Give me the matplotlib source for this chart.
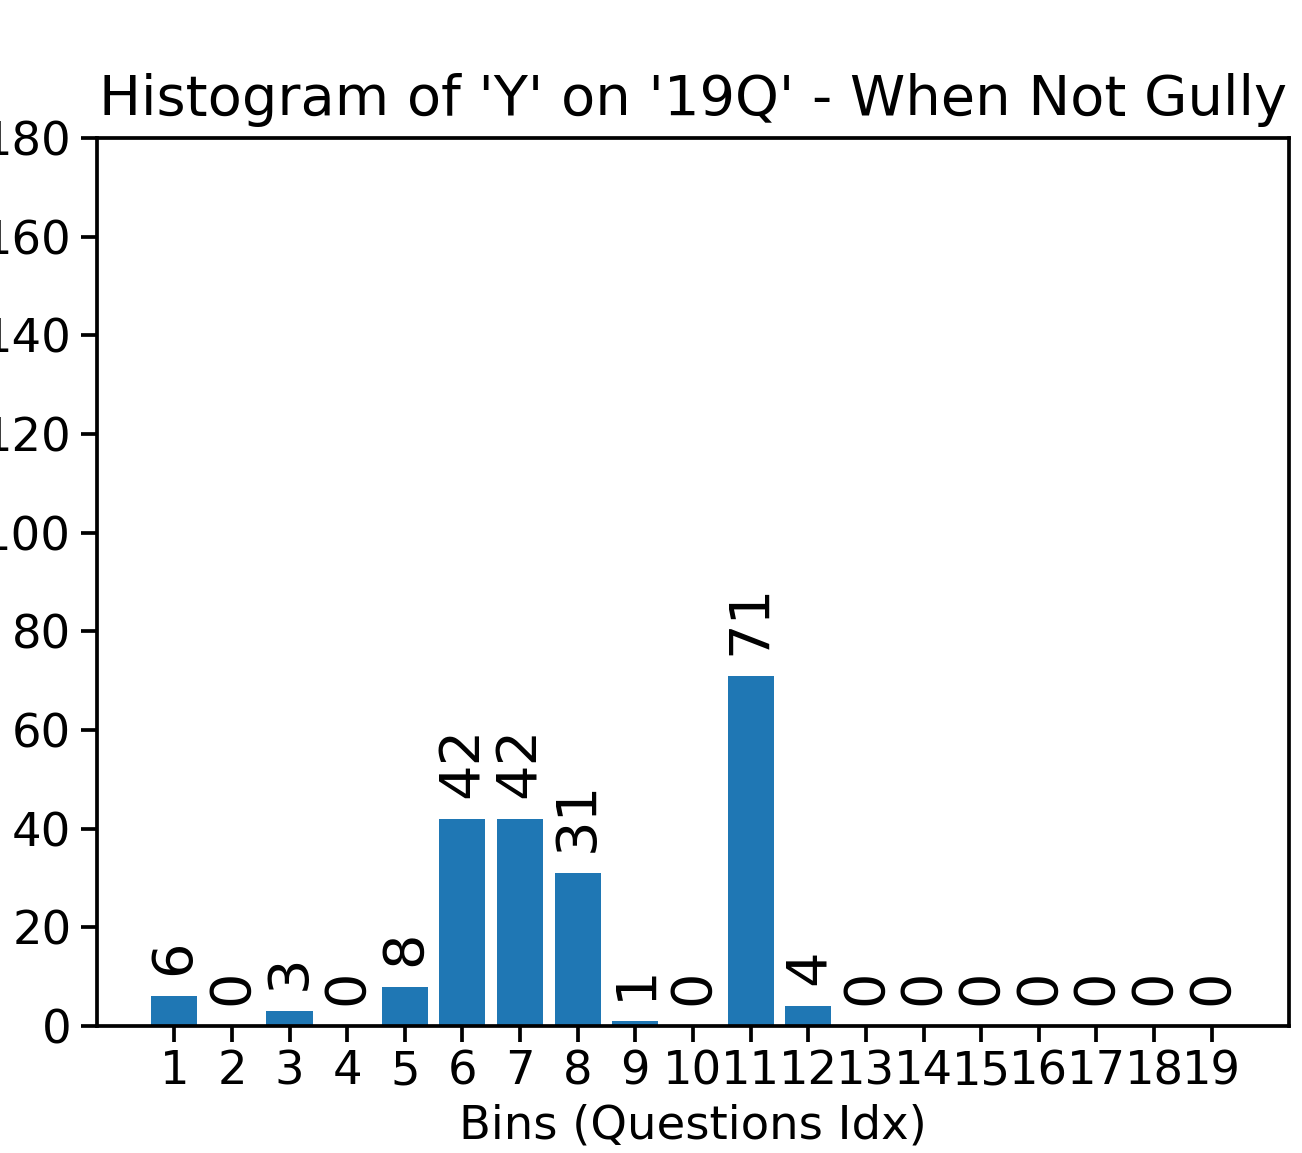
import numpy as np
import matplotlib
matplotlib.use("Agg")
import matplotlib.pyplot as plt

# bin indices and counts
bins = list(range(1, 20))
counts = [6, 0, 3, 0, 8, 42, 42, 31, 1, 0, 71, 4, 0, 0, 0, 0, 0, 0, 0]

dpi = 335
fig = plt.figure(figsize=(1302 / dpi, 1153 / dpi), dpi=dpi)
ax = fig.add_axes([97 / 1302, 1 - 1026 / 1153, (1289 - 97) / 1302, (1026 - 138) / 1153])

bars = ax.bar(bins, counts, color="#1f77b4")
for b, c in zip(bins, counts):
    ax.annotate(str(c), (b, c), xytext=(0, 4.5), textcoords="offset points",
                rotation=90, ha="center", va="bottom", fontsize=12)

ax.set_ylim(0, 180)
ax.set_xticks(bins)
ax.set_xticklabels([str(b) for b in bins])
ax.tick_params(axis="x", pad=1.5)
ax.tick_params(axis="y", pad=2)
ax.set_xlabel("Bins (Questions Idx)", labelpad=2)
ax.set_title("Histogram of 'Y' on '19Q' - When Not Gully", pad=5)

fig.savefig("out.png", dpi=dpi)
